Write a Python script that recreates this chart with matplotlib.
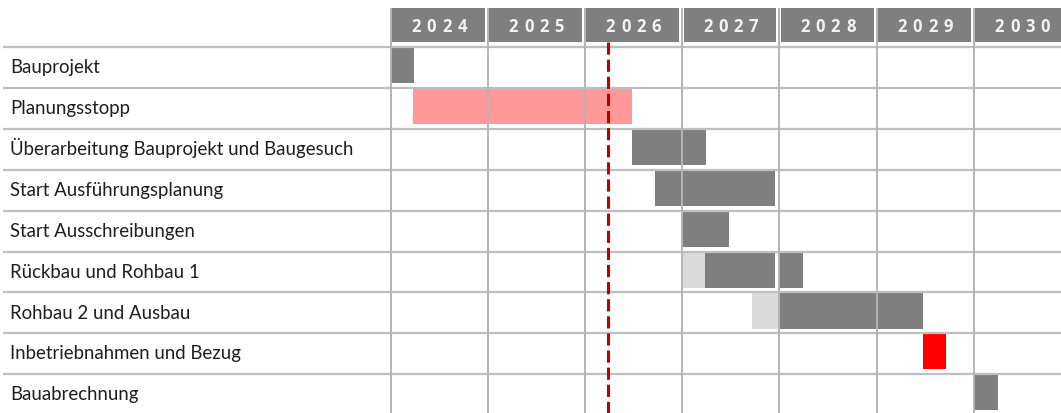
import matplotlib.pyplot as plt
from matplotlib.patches import Rectangle

# Gantt data (years as decimal numbers)
tasks = [
    "Bauprojekt",
    "Planungsstopp",
    "Überarbeitung Bauprojekt und Baugesuch",
    "Start Ausführungsplanung",
    "Start Ausschreibungen",
    "Rückbau und Rohbau 1",
    "Rohbau 2 und Ausbau",
    "Inbetriebnahmen und Bezug",
    "Bauabrechnung",
]
# one list of (start, end, kind) segments per task
segments = [
    [(2024.0, 2024.24, "main")],
    [(2024.23, 2026.48, "stop")],
    [(2026.48, 2027.25, "main")],
    [(2026.72, 2027.96, "main")],
    [(2027.0, 2027.48, "main")],
    [(2027.0, 2027.24, "prep"), (2027.24, 2027.96, "main"), (2028.0, 2028.24, "main")],
    [(2027.72, 2028.0, "prep"), (2028.0, 2029.48, "main")],
    [(2029.48, 2029.72, "move")],
    [(2030.0, 2030.25, "main")],
]
years = [2024, 2025, 2026, 2027, 2028, 2029, 2030]
today = 2026.24

colors = {"main": "#7f7f7f", "prep": "#d9d9d9", "stop": "#ff9999", "move": "#ff0000"}

W, H = 1061, 414
x0_px, col_px = 390.5, 97.2
top_px, row_px = 48, 40.9


def px_x(p):
    return years[0] + (p - x0_px) / col_px


def px_y(p):
    return (p - top_px) / row_px


fig = plt.figure(figsize=(W / 100, H / 100), dpi=100)
ax = fig.add_axes([0, 0, 1, 1])
ax.set_xlim(px_x(0), px_x(W))
ax.set_ylim(px_y(H), px_y(0))
ax.axis("off")

bottom = px_y(H + 5)

# horizontal row lines
for i in range(len(tasks) + 1):
    ax.plot([px_x(3), px_x(W)], [i, i], color="#bfbfbf", lw=1.6, zorder=3,
            solid_capstyle="butt")

# vertical year lines
for yr in years:
    ax.plot([yr, yr], [px_y(9), bottom], color="#b4b4b4", lw=1.4, zorder=3,
            solid_capstyle="butt")

# header boxes with spaced digits
gap = 3 / col_px
for yr in years:
    ax.add_patch(Rectangle((yr + gap * 0.5, px_y(9)), 1 - gap * 1.5,
                           px_y(43) - px_y(9), color="#7f7f7f", lw=0, zorder=4))
    pitch = 15.3 / col_px
    for k, ch in enumerate(str(yr)):
        ax.text(yr + 0.5 + (k - 1.5) * pitch, px_y(26.5), ch, ha="center",
                va="center", color="#f2f2f2", fontsize=12, fontweight="bold",
                family="Open Sans", zorder=5)

# bars
for i, segs in enumerate(segments):
    for start, end, kind in segs:
        ax.barh(i + 0.455, end - start, left=start, height=0.86,
                color=colors[kind], lw=0, zorder=2)

# task labels
for i, name in enumerate(tasks):
    ax.text(px_x(10), i + 0.615, name, ha="left", va="baseline", fontsize=13.4,
            family="Lato", color="#1e1e1e", zorder=5)

# today marker
ax.plot([today, today], [px_y(43), bottom], color="#c00000", lw=2.2,
        dashes=(4, 1.6), zorder=6)

fig.savefig("out.png", dpi=100)
